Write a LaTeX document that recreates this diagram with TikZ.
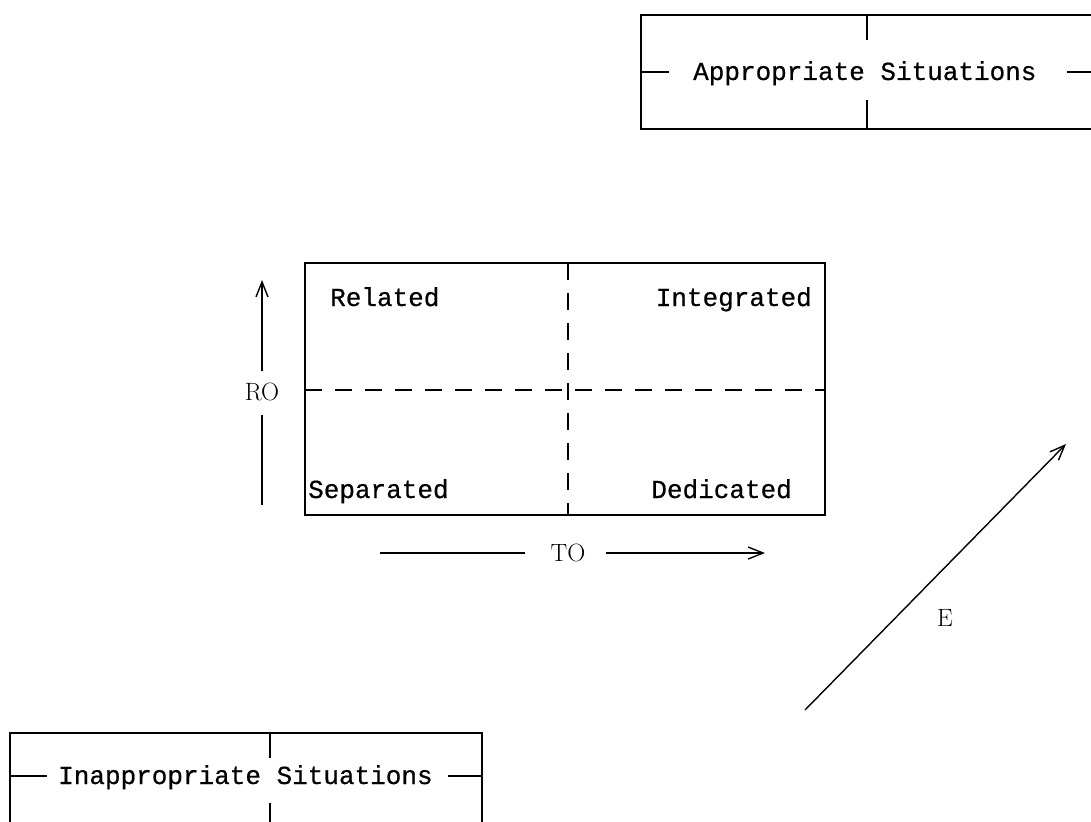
\documentclass[tikz,border=0pt]{standalone}
\usepackage{fontspec}
\newfontfamily\tw[FakeBold=0.6]{Liberation Mono}
\usetikzlibrary{arrows.meta}
\begin{document}
\begin{tikzpicture}[x=1pt,y=-1pt,
  line/.style={line width=1.4pt,black},
  dsh/.style={line width=1.3pt,black,dash pattern=on 17pt off 13pt},
  lbl/.style={font=\tw\fontsize{26}{30}\selectfont, inner sep=0pt},
  axis/.style={font=\fontsize{25}{30}\selectfont, inner sep=0pt},
  arr/.style={line width=1.4pt,black,-{Straight Barb[length=15pt,width=12pt,line width=1.4pt]}}
]
\useasboundingbox (0,0) rectangle (1091,821);
\clip (0,0) rectangle (1091,821);
% top box (Appropriate Situations)
\draw[line] (1110,15) -- (641,15) -- (641,129) -- (1110,129);
\draw[line] (867,15) -- (867,40);
\draw[line] (867,100) -- (867,129);
\node[lbl, anchor=base west] (app) at (693,80) {Appropriate Situations};
\draw[line] (641,72) -- (669,72);
\draw[line] (1067,72) -- (1110,72);
% bottom box (Inappropriate Situations)
\draw[line] (10,840) -- (10,733) -- (482,733) -- (482,840);
\draw[line] (270,733) -- (270,758);
\draw[line] (270,803) -- (270,840);
\node[lbl, anchor=base west] (inapp) at (58,784) {Inappropriate Situations};
\draw[line] (10,776) -- (47,776);
\draw[line] (448,776) -- (482,776);
% middle grid
\draw[line] (305,263) rectangle (825,515);
\draw[dsh] (305,390) -- (825,390);
\draw[dsh] (568,263) -- (568,515);
\node[lbl, anchor=base west] (rel) at (330,306) {Related};
\node[lbl, anchor=base east] (int) at (812,306) {Integrated};
\node[lbl, anchor=base west] (sep) at (308,498) {Separated};
\node[lbl, anchor=base east] (ded) at (792,498) {Dedicated};
% RO axis
\node[axis] (ro) at (262,392) {RO};
\coordinate (roTop) at (262,280);
\coordinate (roBot) at (262,505);
\draw[arr] ([yshift=12pt]ro.north) -- (roTop);
\draw[line] ([yshift=-14pt]ro.south) -- (roBot);
% TO axis
\node[axis] (to) at (568,553) {TO};
\coordinate (toL) at (380,553);
\coordinate (toR) at (765,553);
\draw[line] ([xshift=-25pt]to.west) -- (toL);
\draw[arr] ([xshift=20pt]to.east) -- (toR);
% E axis
\coordinate (eTail) at (805,710);
\coordinate (eTip) at (1066,444);
\draw[arr] (eTail) -- (eTip);
\node[axis] (e) at (945,618) {E};
\end{tikzpicture}
\end{document}
